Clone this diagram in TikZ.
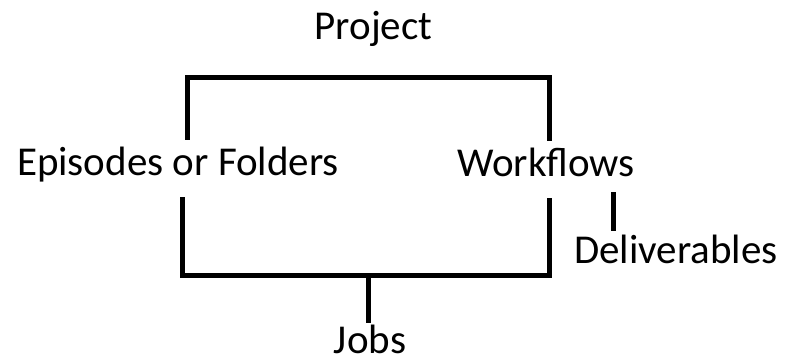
\documentclass[tikz,border=0pt]{standalone}
\usepackage{fontspec}
\setmainfont{Carlito}

\begin{document}
\begin{tikzpicture}[x=1pt, y=-1pt,
    lab/.style={inner sep=0pt, text height=28pt, text depth=10pt, anchor=base, font=\fontsize{41}{49}\selectfont},
    bar/.style={line width=5pt, line join=miter}]
    \useasboundingbox (0,0) rectangle (786,362);
    \node[lab] (prj) at (373.5,39) {Project};
    \node[lab] (epi) at (178,175)  {Episodes or Folders};
    \node[lab] (wrk) at (546,176)  {Workflows};
    \node[lab] (dlv) at (676,263)  {Deliverables};
    \node[lab] (job) at (370,353)  {Jobs};
    \coordinate (prjbar) at (368,77);
    \coordinate (jobbar) at (368,275);
    \coordinate (dlvtop) at ([xshift=-63pt]dlv.north);
    \draw[bar, shorten <=7pt, shorten >=7pt] ([xshift=9pt]epi.north) |- (prjbar) -| ([xshift=3pt]wrk.north);
    \draw[bar, shorten <=12pt, shorten >=12pt] ([xshift=4pt]epi.south) |- (jobbar) -| ([xshift=3pt]wrk.south);
    \draw[bar, shorten >=2pt] (jobbar) -- (jobbar |- job.north);
    \draw[bar, shorten <=6pt, shorten >=4pt] (dlvtop |- wrk.south) -- (dlvtop);
  \end{tikzpicture}
\end{document}
